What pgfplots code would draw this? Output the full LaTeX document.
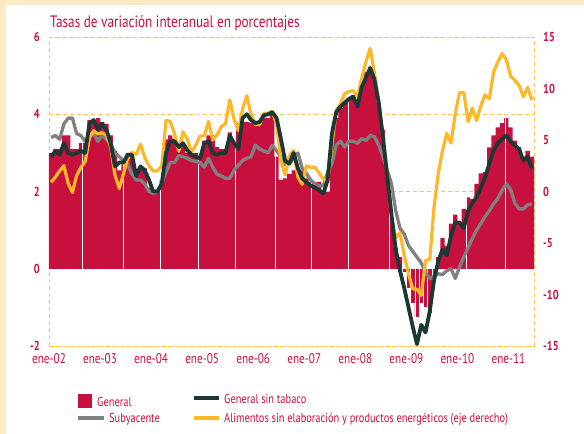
\documentclass[border=0pt]{standalone}
\usepackage{fontspec}
\setmainfont{PT Sans}[FakeStretch=0.8]
\usepackage{pgfplots}
\usepackage{pgfplotstable}
\pgfplotsset{compat=1.18}
\definecolor{crim}{RGB}{200,16,62}
\definecolor{darkl}{RGB}{28,56,52}
\definecolor{grayl}{RGB}{128,128,128}
\definecolor{yel}{RGB}{252,184,40}
\definecolor{gridc}{RGB}{250,196,80}
\definecolor{cream}{RGB}{255,234,196}

\pgfplotstableread{
m gen sint suby alim
0 3.0 2.9 3.4 0.9
1 3.1 3.05 3.45 1.4
2 3.1 2.95 3.35 2.0
3 3.45 3.25 3.75 2.5
4 3.45 3.0 3.9 0.8
5 3.1 2.95 3.9 -0.1
6 3.1 3.0 3.5 1.55
7 3.25 3.05 3.45 2.35
8 3.25 3.0 3.3 2.9
9 3.85 3.75 3.5 5.2
10 3.85 3.85 3.5 5.9
11 3.9 3.6 3.3 5.6
12 3.8 3.75 3.45 5.7
13 3.75 3.6 3.35 5.5
14 3.45 3.25 3.25 4.3
15 3.05 2.65 3.0 1.6
16 2.55 2.75 2.9 0.3
17 2.7 2.75 2.8 1.7
18 3.0 2.95 2.7 3.2
19 3.0 2.95 2.45 3.8
20 2.55 2.4 2.3 3.6
21 2.6 2.65 2.3 4.6
22 2.6 2.55 2.2 3.3
23 2.1 2.3 2.0 2.5
24 2.05 2.0 1.95 2.0
25 2.05 2.0 2.0 2.0
26 2.3 2.2 2.2 2.5
27 3.35 3.0 2.5 6.9
28 3.45 3.3 2.75 6.8
29 3.37 3.3 2.75 5.6
30 3.25 3.15 2.93 3.9
31 3.25 3.25 2.9 5.8
32 3.0 3.07 2.86 5.1
33 3.0 2.95 2.8 3.8
34 3.0 2.9 2.78 4.5
35 2.95 2.86 2.75 5.4
36 3.32 3.25 2.63 5.4
37 3.45 3.3 2.86 6.8
38 3.45 3.0 2.63 5.0
39 3.15 2.95 2.45 5.5
40 3.1 3.0 2.4 6.3
41 3.1 3.0 2.34 6.6
42 3.53 3.45 2.34 8.9
43 3.3 3.25 2.55 7.0
44 3.77 3.1 2.68 5.9
45 3.8 3.9 2.8 8.0
46 3.8 4.0 2.86 9.3
47 3.77 3.85 2.9 7.5
48 3.8 3.77 3.2 6.5
49 3.8 3.8 3.1 6.5
50 3.9 3.97 3.05 7.6
51 3.9 4.0 3.0 7.6
52 4.0 4.05 3.2 7.8
53 2.9 3.9 3.05 6.5
54 2.3 3.37 2.9 3.0
55 2.34 2.8 2.7 1.6
56 2.45 2.72 2.72 3.5
57 2.55 3.0 2.86 4.0
58 2.55 2.6 3.0 1.4
59 2.55 2.34 2.6 0.7
60 2.34 2.24 2.47 2.5
61 2.24 2.15 2.3 2.35
62 2.24 2.1 2.2 2.35
63 2.24 2.03 2.15 1.8
64 2.03 1.95 2.15 1.2
65 2.0 2.3 2.5 0.9
66 3.25 3.5 2.72 4.5
67 3.9 4.05 3.2 7.9
68 4.16 4.2 3.3 8.5
69 4.3 4.3 3.15 9.5
70 4.4 4.4 3.3 9.7
71 4.5 4.45 3.3 9.8
72 4.3 4.2 3.25 9.2
73 4.75 4.7 3.37 11.0
74 5.1 4.95 3.32 12.6
75 5.22 5.2 3.45 13.9
76 4.9 4.9 3.42 11.5
77 4.3 4.3 3.2 8.7
78 3.6 3.4 2.9 5.3
79 2.5 2.4 2.55 1.75
80 1.25 1.4 2.2 -2.5
81 0.55 0.5 1.5 -4.5
82 0.3 -0.05 1.05 -4.0
83 -0.1 -0.5 0.9 -6.2
84 -0.5 -1.0 0.6 -8.0
85 -0.9 -1.5 0.45 -9.45
86 -1.25 -1.95 0.3 -9.5
87 -0.9 -1.45 0.15 -10.1
88 -1.0 -1.65 -0.1 -6.7
89 -1.15 -1.1 -0.25 -6.6
90 -0.3 -0.3 -0.2 -1.5
91 0.3 0.2 -0.13 1.75
92 0.8 0.5 -0.15 4.0
93 0.6 0.35 -0.05 5.65
94 1.17 0.85 0.0 4.7
95 1.4 1.2 -0.25 7.6
96 1.2 1.2 0.05 9.6
97 1.55 1.05 0.3 9.6
98 1.85 1.5 0.55 6.8
99 1.8 1.7 0.78 8.1
100 2.2 1.85 1.0 6.9
101 2.47 2.1 1.17 8.3
102 2.5 2.36 1.35 9.4
103 3.14 2.72 1.5 9.0
104 3.45 3.07 1.68 11.6
105 3.66 3.25 1.82 12.6
106 3.77 3.35 2.03 13.4
107 3.9 3.45 2.2 12.8
108 3.66 3.3 2.05 11.2
109 3.32 3.2 1.7 10.8
110 3.15 3.1 1.55 10.3
111 2.9 2.8 1.55 9.2
112 3.05 2.9 1.65 10.1
113 2.9 2.6 1.68 8.9
}\datatab

\begin{document}
\begin{tikzpicture}
\fill[cream] (0,0) rectangle (584bp,-434bp);
\fill[white] (6bp,-5bp) rectangle (584bp,-434bp);
\useasboundingbox (0,0) rectangle (584bp,-434bp);
\node[anchor=base west, text=crim, font=\fontsize{16.5bp}{18bp}\selectfont, inner sep=0pt] at (50bp,-27bp) {Tasas de variación interanual en porcentajes};

\begin{axis}[
  at={(49bp,-346bp)}, anchor=south west,
  width=485bp, height=309bp, scale only axis,
  xmin=0, xmax=114, ymin=-2, ymax=6,
  clip=false,
  ytick={-2,0,2,4,6},
  yticklabels={-2,0,2,4,6},
  xtick={0,12,24,36,48,60,72,84,96,108},
  xticklabels={ene-02,ene-03,ene-04,ene-05,ene-06,ene-07,ene-08,ene-09,ene-10,ene-11},
  major tick length=0pt,
  axis line style={gridc, line width=0.9bp, dash pattern=on 4bp off 3bp},
  ymajorgrids,
  grid style={gridc, line width=0.9bp, dash pattern=on 4bp off 3bp},
  yticklabel style={text=crim, font=\bfseries\fontsize{13bp}{15bp}\selectfont, inner sep=0pt, anchor=east, xshift=-9bp},
  xticklabel style={text=crim, font=\fontsize{14bp}{16bp}\selectfont, inner sep=0pt, anchor=north, yshift=-7bp},
]
\addplot[ybar, bar width=1, fill=crim, draw=none, bar shift=0pt] table[x expr=\thisrow{m}+0.5, y=gen] {\datatab};
\addplot[ybar, bar width=1, fill=crim, draw=white, line width=0.6bp, bar shift=0pt, restrict y to domain=-5:-0.01] table[x expr=\thisrow{m}+0.5, y=gen] {\datatab};
\foreach \s in {7.75,17.4,26.3,35.0,43.7,53.3,61.7,70.4,80.0,98.1,107.3} {
  \edef\tmp{\noexpand\draw[white, line width=0.8bp] (axis cs:\s,0) -- (axis cs:\s,5);}
  \tmp
}
\addplot[grayl, line width=3.3bp, line join=round] table[x expr=\thisrow{m}+0.5, y=suby] {\datatab};
\addplot[yel, line width=3.2bp, line join=round] table[x expr=\thisrow{m}+0.5, y expr=\thisrow{alim}/3.75+2] {\datatab};
\addplot[darkl, line width=3.8bp, line join=round] table[x expr=\thisrow{m}+0.5, y=sint] {\datatab};
\end{axis}

\begin{axis}[
  at={(49bp,-346bp)}, anchor=south west,
  width=485bp, height=309bp, scale only axis,
  xmin=0, xmax=114, ymin=-15, ymax=15,
  axis y line*=right, axis x line=none,
  axis line style={draw=none},
  major tick length=0pt,
  ytick={-15,-10,-5,0,5,10,15},
  yticklabels={-15,-10,-5,0,5,10,15},
  yticklabel style={text=crim, font=\bfseries\fontsize{13bp}{15bp}\selectfont, inner sep=0pt, anchor=west, xshift=9bp},
]
\addplot[draw=none] coordinates {(0,0)};
\end{axis}

% legend
\begin{scope}[font=\fontsize{13bp}{15bp}\selectfont]
\fill[crim] (78bp,-394bp) rectangle (92bp,-408bp);
\node[anchor=west, text=crim, inner sep=0pt] at (97bp,-402bp) {General};
\draw[darkl, line width=3.8bp] (194bp,-398bp) -- (219bp,-398bp);
\node[anchor=west, text=crim, inner sep=0pt] at (224bp,-399bp) {General sin tabaco};
\draw[grayl, line width=3.3bp] (78bp,-418bp) -- (104bp,-418bp);
\node[anchor=west, text=crim, inner sep=0pt] at (109bp,-419bp) {Subyacente};
\draw[yel, line width=3.2bp] (194bp,-418bp) -- (219bp,-418bp);
\node[anchor=west, text=crim, inner sep=0pt] at (224bp,-419bp) {Alimentos sin elaboración y productos energéticos (eje derecho)};
\end{scope}
\end{tikzpicture}
\end{document}
